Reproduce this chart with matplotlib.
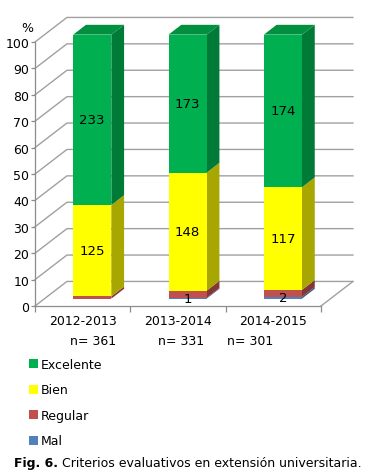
import matplotlib.pyplot as plt
from matplotlib.patches import Polygon, Patch

# data
years = ["2012-2013", "2013-2014", "2014-2015"]
n_total = [361, 331, 301]
excelente = [233, 173, 174]
bien = [125, 148, 117]
regular = [3, 9, 8]
mal = [0, 1, 2]

series = [
    ("Mal", mal, "#4F81BD", "#34598A", False),
    ("Regular", regular, "#C0504D", "#843634", False),
    ("Bien", bien, "#FFFF00", "#A8A600", True),
    ("Excelente", excelente, "#00B050", "#007A37", True),
]
top_color = "#00903F"
grid_color = "#A0A0A0"
axis_color = "#8C8C8C"

W, H = 367, 477
fig = plt.figure(figsize=(W / 100, H / 100), dpi=100)
ax = fig.add_axes([35 / W, (H - 307) / H, 286 / W, 264 / H])
ax.set_xlim(0, 3)
ax.set_ylim(0, 100)

# depth of the 3d box (category units, percent units)
DX, DY = 0.335, 9.3
f0, f1 = 0.3, 0.7  # bar front / back depth fractions

for v in range(0, 101, 10):
    ax.plot([0, DX, 3 + DX], [v, v + DY, v + DY], color=grid_color,
            lw=1.0, clip_on=False, zorder=1)
ax.plot([3, 3 + DX], [0, DY], color=grid_color, lw=1.0, clip_on=False, zorder=1)

for i, n in enumerate(n_total):
    bottom = 0.0
    for k, (name, vals, front, side, labelled) in enumerate(series):
        val = vals[i] / n * 100
        x0 = i + 0.3 + f0 * DX
        x1 = x0 + 0.4
        y0 = bottom + f0 * DY
        y1 = y0 + val
        ddx, ddy = (f1 - f0) * DX, (f1 - f0) * DY
        if val > 0:
            ax.add_patch(Polygon([(x1, y0), (x1 + ddx, y0 + ddy), (x1 + ddx, y1 + ddy), (x1, y1)],
                                 closed=True, fc=side, ec="none", zorder=3, clip_on=False))
            ax.add_patch(Polygon([(x0, y0), (x1, y0), (x1, y1), (x0, y1)],
                                 closed=True, fc=front, ec="none", zorder=3, clip_on=False))
        if k == len(series) - 1:
            ax.add_patch(Polygon([(x0, y1), (x1, y1), (x1 + ddx, y1 + ddy), (x0 + ddx, y1 + ddy)],
                                 closed=True, fc=top_color, ec="none", zorder=3, clip_on=False))
        if vals[i] > 0 and (labelled or name == "Mal"):
            ax.text((x0 + x1) / 2, y0 + val / 2, str(vals[i]), ha="center", va="center",
                    fontsize=9.5, zorder=5, clip_on=False)
        bottom += val

for s in ["top", "right"]:
    ax.spines[s].set_visible(False)
for s in ["left", "bottom"]:
    ax.spines[s].set_color(axis_color)
    ax.spines[s].set_linewidth(0.9)
ax.set_facecolor("none")
ax.set_yticks(range(0, 101, 10))
ax.set_xticks([0, 1, 2, 3])
ax.set_xticklabels([])
ax.set_xticks([0.5, 1.5, 2.5], labels=years, minor=True)
ax.tick_params(axis="y", length=3, width=0.9, color=axis_color, labelsize=9, pad=1)
ax.tick_params(axis="x", which="major", length=4, width=0.9, color=axis_color)
ax.tick_params(axis="x", which="minor", length=0, labelsize=9, pad=6)

fig.text(27 / W, 1 - 29 / H, "%", ha="center", va="center", fontsize=9)
for xpx, n in zip([70, 158, 227], n_total):
    fig.text(xpx / W, 1 - 342 / H, f"n= {n}", ha="left", va="center", fontsize=9)

handles = [Patch(fc=c, ec="none", label=name) for name, _, c, _, _ in reversed(series)]
fig.legend(handles=handles, loc="upper left", bbox_to_anchor=(24 / W, 1 - 354 / H),
           frameon=False, fontsize=9, handlelength=0.7, handleheight=0.7,
           handletextpad=0.2, labelspacing=1.0, borderaxespad=0)

cap = fig.text(14 / W, 1 - 464 / H, "Fig. 6.", fontsize=9, fontweight="bold",
               ha="left", va="center")
ax.annotate(" Criterios evaluativos en extensión universitaria.", xy=(1, 0.5),
            xycoords=cap, ha="left", va="center", fontsize=9)

fig.savefig("out.png", dpi=100)
